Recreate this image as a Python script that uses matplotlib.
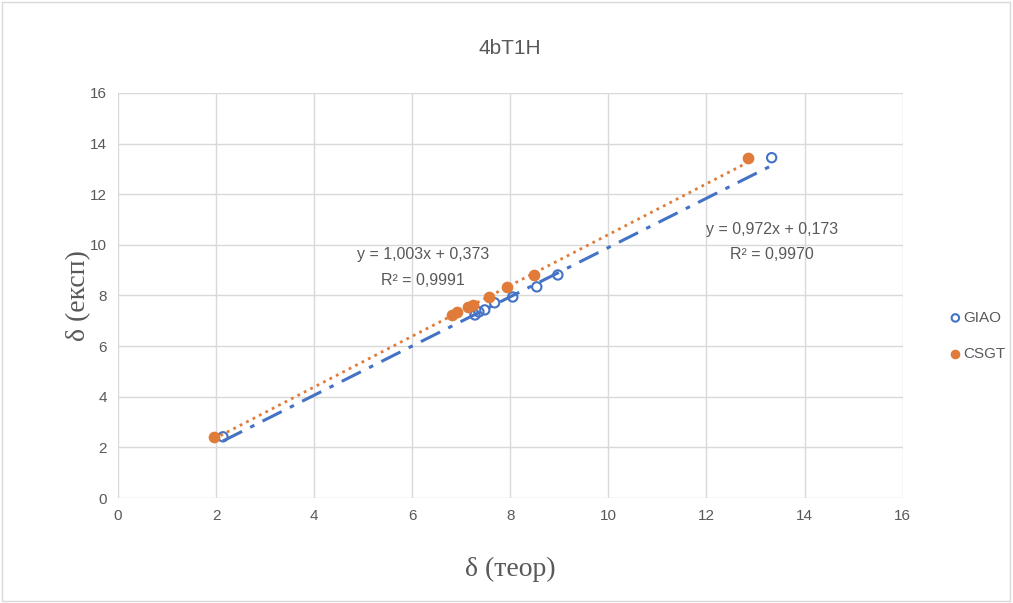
import numpy as np
import matplotlib.pyplot as plt
from matplotlib.patches import Rectangle

# experimental shifts (shared by both series)
exp_y = [2.42, 7.23, 7.35, 7.43, 7.71, 7.94, 8.34, 8.81, 13.44]
giao_x = [2.14, 7.28, 7.36, 7.48, 7.68, 8.05, 8.54, 8.97, 13.33]
exp_y_csgt = [2.42, 7.23, 7.35, 7.55, 7.63, 7.94, 8.34, 8.81, 13.44]
csgt_x = [1.96, 6.81, 6.91, 7.13, 7.24, 7.56, 7.93, 8.48, 12.84]

# trendline coefficients (slope, intercept) as printed on the chart
giao_fit = (0.972, 0.173)
csgt_fit = (1.003, 0.373)
giao_r2 = "0,9970"
csgt_r2 = "0,9991"

blue = '#4472C4'
orange = '#E07B39'
gray = '#595959'

plt.rcParams['font.family'] = ['Liberation Sans', 'DejaVu Sans']

fig = plt.figure(figsize=(10.13, 6.03), dpi=100)
ax = fig.add_axes([0.1165, 0.174, 0.7745, 0.672])

ax.scatter(giao_x, exp_y, s=45, facecolors='none', edgecolors=blue,
           linewidths=1.5, zorder=3, label='GIAO')
ax.scatter(csgt_x, exp_y_csgt, s=55, color=orange, zorder=4, label='CSGT')

xg = np.array([min(giao_x), max(giao_x)])
ax.plot(xg, giao_fit[0]*xg + giao_fit[1], color=blue, lw=2.2,
        linestyle=(0, (7, 3, 1.5, 3)), zorder=2)
xc = np.array([min(csgt_x), max(csgt_x)])
ax.plot(xc, csgt_fit[0]*xc + csgt_fit[1], color=orange, lw=2,
        linestyle=(0, (1, 1.6)), zorder=2)

ax.text(6.22, 9.6, "y = 1,003x + 0,373", ha='center', va='center', fontsize=11.5, color=gray)
ax.text(6.22, 8.6, "R² = " + csgt_r2, ha='center', va='center', fontsize=11.5, color=gray)
ax.text(13.33, 10.6, "y = 0,972x + 0,173", ha='center', va='center', fontsize=11.5, color=gray)
ax.text(13.33, 9.6, "R² = " + giao_r2, ha='center', va='center', fontsize=11.5, color=gray)

ax.set_xlim(0, 16)
ax.set_ylim(0, 16)
ax.set_xticks(range(0, 17, 2))
ax.set_yticks(range(0, 17, 2))
ax.grid(True, color='#d9d9d9', lw=1)
ax.set_axisbelow(True)
for s in ax.spines.values():
    s.set_visible(False)
ax.tick_params(length=0, labelsize=11, colors=gray, pad=8)

ax.set_title('4bT1H', fontsize=15, color=gray, pad=28)
ax.set_xlabel('δ (теор)', fontsize=20, family='Liberation Serif', color=gray, labelpad=24)
ax.set_ylabel('δ (експ)', fontsize=20, family='Liberation Serif', color=gray, labelpad=-1)

leg = ax.legend(loc='center left', bbox_to_anchor=(1.04, 0.40), frameon=False,
                fontsize=11, handletextpad=0.0, labelspacing=1.45, markerscale=0.8,
                handlelength=1.0)
for t in leg.get_texts():
    t.set_color(gray)

fig.add_artist(Rectangle((0.002, 0.004), 0.995, 0.992, transform=fig.transFigure,
                         fill=False, edgecolor='#d9d9d9', lw=1))

fig.savefig('out.png', dpi=100)
